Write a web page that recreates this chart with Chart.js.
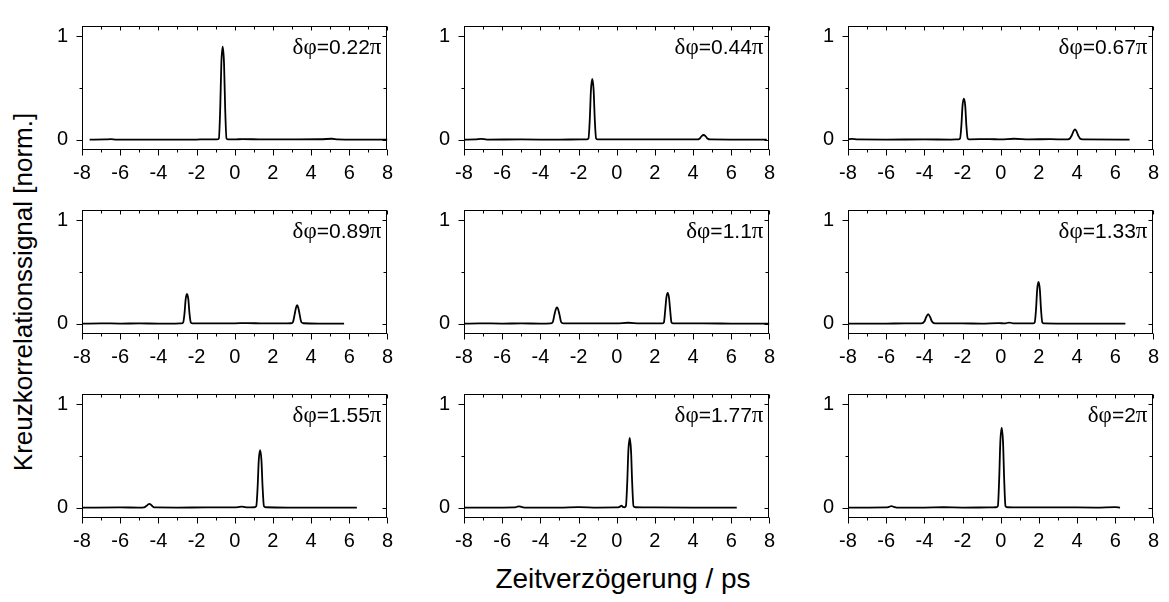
<!DOCTYPE html>
<html>
<head>
<meta charset="utf-8">
<script src="https://cdn.jsdelivr.net/npm/chart.js@4/dist/chart.umd.min.js"></script>
<style>
  html, body { margin: 0; padding: 0; background: #fff; overflow: hidden; }
  body { width: 1169px; height: 602px; position: relative; font-family: "Liberation Sans", Arial, sans-serif; }
  canvas { position: absolute; }
  .title { position: absolute; color: #000; white-space: nowrap; }
  #ytitle { left: 23px; top: 292px; font-size: 26px; transform: translate(-50%, -50%) rotate(-90deg); }
  #xtitle { left: 623px; top: 579px; font-size: 28px; transform: translate(-50%, -50%); }
</style>
</head>
<body>
<div id="ytitle" class="title">Kreuzkorrelationssignal [norm.]</div>
<div id="xtitle" class="title">Zeitverzögerung / ps</div>
<script>
// Achsen
const xTicks = [-8, -6, -4, -2, 0, 2, 4, 6, 8];
const xMinorTicks = [-7, -5, -3, -1, 1, 3, 5, 7];
const yTicks = [0, 1];
const yMinorTicks = [0.5];

// Phasendifferenzen (Beschriftung der Felder)
const phaseLabels = ['0.22', '0.44', '0.67', '0.89', '1.1', '1.33', '1.55', '1.77', '2'];

// Messkurven [t / ps, Signal]
const curve022 = [[-7.6,0],[-6.8,0.002],[-6.5,0.005],[-6.2,0.001],[-4,0],[-2,0.001],[-1.6,0.003],[-1.2,0.002],
  [-0.93,0.003],[-0.83,0.012],[-0.76,0.3],[-0.7,0.74],[-0.63,0.9],[-0.56,0.74],[-0.5,0.3],[-0.43,0.012],[-0.33,0.003],
  [0,0.002],[0.4,0.006],[1.5,0.002],[3,0.003],[4.5,0.004],[5.1,0.009],[5.4,0.003],[6.5,0.001],[8,0]];
const curve044 = [[-8,0],[-7.4,0.002],[-7.1,0.008],[-6.8,0.001],[-5,0.002],[-3,0],[-1.9,0.003],
  [-1.58,0.003],[-1.48,0.012],[-1.41,0.2],[-1.35,0.48],[-1.28,0.587],[-1.21,0.48],[-1.15,0.2],[-1.08,0.012],[-0.98,0.003],
  [0,0.003],[1,0.002],[2.5,0.003],[4.2,0.002],[4.35,0.012],[4.45,0.035],[4.55,0.045],[4.65,0.035],[4.75,0.012],[4.9,0.002],[6,0.001],[7.86,0]];
const curve067 = [[-8,0.002],[-7.8,0.008],[-7.5,0.002],[-6,0.001],[-4,0.002],[-2.6,0.001],
  [-2.23,0.003],[-2.13,0.012],[-2.06,0.14],[-2.0,0.33],[-1.93,0.396],[-1.86,0.33],[-1.8,0.14],[-1.73,0.012],[-1.63,0.003],
  [-0.6,0.006],[0,0.002],[0.7,0.009],[1.5,0.003],[2.6,0.005],[3.4,0.002],[3.6,0.008],[3.72,0.04],[3.82,0.085],[3.89,0.1],
  [3.96,0.085],[4.06,0.04],[4.18,0.008],[4.4,0.002],[6.75,0]];
const curve089 = [[-8,0],[-7,0.003],[-6,0.001],[-5,0.002],[-4,0.001],[-3.1,0.001],
  [-2.8,0.003],[-2.7,0.012],[-2.63,0.1],[-2.57,0.235],[-2.5,0.287],[-2.43,0.235],[-2.37,0.1],[-2.3,0.012],[-2.2,0.003],
  [-1.5,0.002],[0,0.003],[0.65,0.006],[1.5,0.002],[2.5,0.002],[2.95,0.004],[3.05,0.015],[3.14,0.09],[3.21,0.155],[3.27,0.178],
  [3.33,0.155],[3.4,0.09],[3.49,0.015],[3.6,0.004],[4.5,0.001],[5.73,0]];
const curve110 = [[-8,0],[-7.2,0.003],[-6,0.001],[-5,0.002],[-4,0.001],[-3.45,0.003],[-3.35,0.015],[-3.27,0.08],[-3.19,0.14],
  [-3.13,0.158],[-3.07,0.14],[-2.99,0.08],[-2.91,0.015],[-2.8,0.003],[-1.5,0.003],[0,0.003],[0.6,0.009],[1.2,0.002],
  [2.37,0.003],[2.47,0.012],[2.54,0.13],[2.6,0.25],[2.67,0.298],[2.74,0.25],[2.8,0.13],[2.87,0.012],[2.97,0.003],
  [4.5,0.002],[6,0.001],[8,0]];
const curve133 = [[-8,0],[-6,0.001],[-5,0.002],[-4.15,0.002],[-4.0,0.02],[-3.9,0.065],[-3.8,0.092],[-3.7,0.065],[-3.6,0.02],
  [-3.45,0.002],[-2,0.002],[-1,0.001],[-0.1,0.006],[0.2,0.002],[0.45,0.011],[0.7,0.002],[1.6,0.003],
  [1.68,0.003],[1.78,0.012],[1.85,0.14],[1.91,0.33],[1.98,0.404],[2.05,0.33],[2.11,0.14],[2.18,0.012],[2.28,0.003],
  [4,0.001],[6.53,0]];
const curve155 = [[-8,0],[-6,0.002],[-5,0.001],[-4.75,0.003],[-4.62,0.018],[-4.52,0.034],[-4.48,0.037],[-4.4,0.03],[-4.3,0.012],
  [-4.15,0.002],[-3,0.001],[-1.5,0.002],[0,0.002],[0.35,0.01],[0.6,0.003],
  [1.03,0.004],[1.13,0.015],[1.2,0.2],[1.26,0.46],[1.33,0.557],[1.4,0.46],[1.46,0.2],[1.53,0.015],[1.63,0.004],
  [3,0.001],[6.4,0]];
const curve177 = [[-8,0],[-6,0.001],[-5.35,0.002],[-5.2,0.01],[-5.12,0.013],[-5.0,0.008],[-4.85,0.001],[-3,0.001],[-2,0.005],
  [-1,0.001],[0,0.002],[0.15,0.008],[0.25,0.02],[0.33,0.006],
  [0.4,0.004],[0.48,0.015],[0.55,0.24],[0.61,0.55],[0.68,0.674],[0.75,0.55],[0.81,0.24],[0.88,0.015],[0.98,0.004],
  [2,0.002],[4,0.001],[6.29,0]];
const curve200 = [[-8,0],[-7,0.001],[-6,0.002],[-5.85,0.008],[-5.73,0.015],[-5.6,0.008],[-5.45,0.001],[-4,0.001],[-3,0.004],
  [-2,0.001],[-0.6,0.002],
  [-0.25,0.004],[-0.15,0.015],[-0.08,0.28],[-0.02,0.64],[0.05,0.774],[0.12,0.64],[0.18,0.28],[0.25,0.015],[0.35,0.004],
  [1,0.002],[3,0.003],[5,0.001],[6.0,0.006],[6.25,0]];

const curves = [curve022, curve044, curve067, curve089, curve110, curve133, curve155, curve177, curve200];

// Lage der Felder
const colLeft = [82, 464, 848];
const rowTop = [10, 194, 378];
const frameW = 312, frameH = 140;
const padL = 50, padT = 10, padR = 10, padB = 36;

const FONT = '"Liberation Sans", Arial, sans-serif';

// Rahmen, Teilstriche und Beschriftung δφ
const framePlugin = {
    id: 'frame',
    afterDraw(chart, args, opts) {
        const { ctx, chartArea: a, scales: { x, y } } = chart;
        ctx.save();
        ctx.strokeStyle = '#000';
        ctx.lineWidth = 1;
        const L = Math.round(a.left) + 0.5, R = Math.round(a.right) - 0.5;
        const T = Math.round(a.top) + 0.5, B = Math.round(a.bottom) - 0.5;
        ctx.strokeRect(L, T, R - L, B - T);
        ctx.beginPath();
        const xt = (v, major) => {
            const px = Math.round(x.getPixelForValue(v)) + 0.5;
            ctx.moveTo(px, B); ctx.lineTo(px, B + (major ? 6 : 3));
            ctx.moveTo(px, T); ctx.lineTo(px, T + (major ? 4 : 3));
        };
        const yt = (v, major) => {
            const py = Math.round(y.getPixelForValue(v)) + 0.5;
            ctx.moveTo(L, py); ctx.lineTo(L - (major ? 6 : 3), py);
            ctx.moveTo(R, py); ctx.lineTo(R - (major ? 4 : 3), py);
        };
        xTicks.forEach(v => xt(v, true));
        xMinorTicks.forEach(v => xt(v, false));
        yTicks.forEach(v => yt(v, true));
        yMinorTicks.forEach(v => yt(v, false));
        ctx.stroke();

        // δφ=...π
        const parts = [
            ['δφ', '23px "Liberation Serif", serif'],
            ['=' + opts.label, '21px ' + FONT],
            ['π', '23px "Liberation Serif", serif']
        ];
        let total = 0;
        parts.forEach(p => { ctx.font = p[1]; total += ctx.measureText(p[0]).width; });
        let cx = a.right - 6 - total;
        const base = a.top + 28;
        ctx.fillStyle = '#000';
        ctx.textBaseline = 'alphabetic';
        ctx.textAlign = 'left';
        parts.forEach(p => { ctx.font = p[1]; ctx.fillText(p[0], cx, base); cx += ctx.measureText(p[0]).width; });
        ctx.restore();
    }
};

curves.forEach((data, i) => {
    const col = i % 3, row = Math.floor(i / 3);
    const canvas = document.createElement('canvas');
    canvas.width = padL + frameW + padR;
    canvas.height = padT + frameH + padB;
    canvas.style.left = (colLeft[col] - padL) + 'px';
    canvas.style.top = (rowTop[row] - padT) + 'px';
    document.body.appendChild(canvas);

    new Chart(canvas, {
        type: 'line',
        data: {
            datasets: [{
                data: data,
                borderColor: '#000',
                borderWidth: 1.8,
                pointRadius: 0,
                fill: false,
                cubicInterpolationMode: 'monotone'
            }]
        },
        options: {
            responsive: false,
            animation: false,
            devicePixelRatio: 1,
            layout: { padding: { left: 0, top: padT, right: padR, bottom: 0 } },
            plugins: {
                legend: { display: false },
                tooltip: { enabled: false },
                frame: { label: phaseLabels[i] }
            },
            scales: {
                x: {
                    type: 'linear',
                    min: -8, max: 8,
                    grid: { display: false, drawTicks: false },
                    border: { display: false },
                    afterBuildTicks: s => { s.ticks = xTicks.map(v => ({ value: v })); },
                    afterFit: s => { s.height = padB; },
                    ticks: { color: '#000', font: { family: FONT, size: 20 }, padding: 11, maxRotation: 0, autoSkip: false }
                },
                y: {
                    type: 'linear',
                    min: -0.1, max: 1.1,
                    grid: { display: false, drawTicks: false },
                    border: { display: false },
                    afterBuildTicks: s => { s.ticks = yTicks.map(v => ({ value: v })); },
                    afterFit: s => { s.width = padL; },
                    ticks: { color: '#000', font: { family: FONT, size: 20 }, padding: 14 }
                }
            }
        },
        plugins: [framePlugin]
    });
});
</script>
</body>
</html>
